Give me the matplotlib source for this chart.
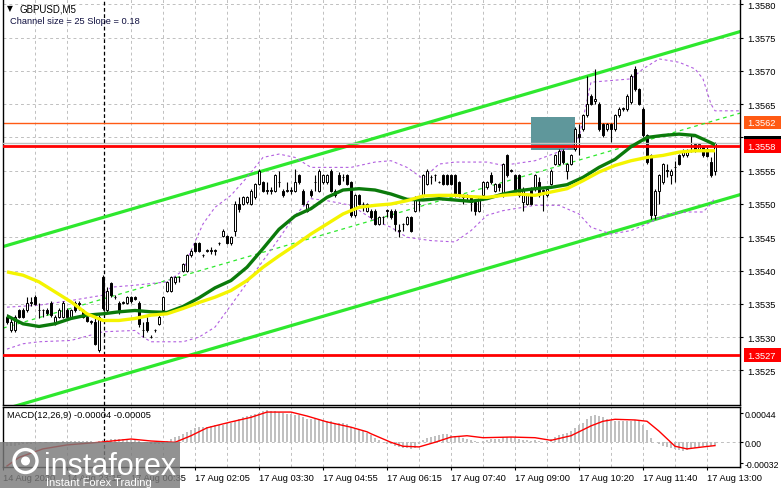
import numpy as np
import matplotlib.pyplot as plt
from matplotlib.patches import Rectangle, Circle
from matplotlib.transforms import blended_transform_factory

plt.rcParams['font.family'] = ['Liberation Sans', 'DejaVu Sans']

base = 1.35  # prices below are pips above 1.3500

opens = [33.0,31.0,31.0,34.0,34.0,34.0,35.2,36.0,34.0,34.0,
         34.0,35.2,32.0,33.0,33.0,34.0,33.0,35.2,35.2,34.0,
         33.0,32.3,32.3,28.0,39.0,34.0,38.1,36.0,35.2,35.2,
         35.2,36.0,36.0,35.2,31.0,32.3,30.0,31.0,32.0,34.0,
         37.0,37.0,38.3,39.0,40.0,40.0,42.3,44.1,44.1,42.3,
         43.0,43.0,43.0,44.1,45.2,45.2,44.1,46.0,50.0,50.0,
         50.3,50.0,51.0,53.0,53.3,52.0,52.0,52.0,53.3,52.0,
         52.0,52.0,52.0,54.3,52.0,49.0,52.0,53.3,52.0,53.3,
         53.3,55.0,51.3,54.3,54.0,54.3,53.3,48.3,51.3,50.0,
         49.0,49.0,49.0,47.0,48.0,49.0,49.0,49.0,46.0,47.0,
         47.0,48.0,49.0,50.0,51.3,53.0,54.0,54.3,53.3,54.3,
         54.3,54.3,54.3,53.3,51.3,51.3,51.0,50.3,49.0,51.3,
         52.5,54.3,52.0,53.0,51.3,57.3,55.0,54.3,54.3,50.3,
         50.0,52.3,52.3,53.3,52.0,51.3,53.0,56.0,56.0,58.0,
         55.0,56.0,58.3,60.5,61.3,63.3,66.3,65.5,65.0,62.0,
         61.3,62.0,61.3,63.3,64.3,64.3,65.3,70.3,67.3,64.3,
         60.3,57.3,48.3,52.0,53.3,55.0,54.3,55.5,57.3,57.3,
         57.3,58.0,59.0,58.3,58.5,58.3,56.3,55.0]
highs = [33.5,32.8,33.3,34.2,34.3,36.0,36.0,36.3,35.2,34.2,
         34.3,35.4,33.3,34.3,35.4,34.3,34.2,35.4,35.4,34.2,
         33.2,32.5,33.0,33.3,39.3,37.5,38.3,36.3,35.4,35.4,
         36.2,36.2,36.2,35.4,32.3,33.0,30.3,31.2,33.3,36.2,
         38.5,39.2,39.2,39.2,41.2,42.5,43.2,44.3,44.3,42.5,
         43.2,43.5,43.2,44.3,46.2,45.4,45.2,50.5,51.0,51.2,
         51.2,52.2,53.2,55.3,53.5,53.3,52.5,54.5,55.0,52.2,
         53.3,52.5,55.3,54.5,52.2,50.2,52.2,54.3,55.3,54.5,
         54.5,55.2,52.2,54.8,54.5,54.5,53.5,51.5,51.5,50.3,
         50.2,49.2,49.2,48.2,48.2,49.2,49.2,49.2,47.0,47.2,
         48.2,48.2,51.2,51.0,54.5,55.3,54.3,54.5,53.5,54.5,
         54.5,54.5,54.5,53.5,51.5,51.5,51.3,50.5,51.2,53.5,
         53.5,54.8,53.2,53.2,56.2,57.5,55.2,54.5,54.5,52.5,
         51.5,52.5,54.5,54.0,52.2,52.5,55.2,57.5,58.2,58.2,
         56.2,57.5,61.5,62.0,63.5,69.3,66.5,70.3,65.3,62.2,
         62.2,62.2,63.5,64.5,64.5,66.5,69.5,70.8,67.5,64.5,
         60.5,57.5,52.2,54.5,56.2,56.0,55.2,56.5,57.5,58.2,
         58.2,60.3,59.2,59.2,58.7,58.5,57.0,59.3]
lows = [32.0,30.8,30.8,32.8,32.8,33.8,34.7,34.8,32.8,33.0,
        33.3,33.0,31.8,32.8,32.8,32.8,32.8,33.8,34.0,32.8,
        32.2,32.0,28.8,27.8,34.0,33.8,36.0,35.8,33.5,35.0,
        35.0,35.2,35.6,31.5,30.0,30.8,29.8,30.8,31.8,33.8,
        36.8,36.8,38.0,38.3,39.8,39.8,42.0,42.8,42.8,42.0,
        42.8,42.5,42.3,43.9,45.0,44.0,43.8,45.2,48.8,49.8,
        50.0,49.8,50.8,52.8,51.8,51.5,51.5,51.8,52.5,51.0,
        51.8,51.5,51.8,53.0,49.8,48.8,51.0,52.0,51.8,53.0,
        53.0,51.8,51.0,52.8,53.5,52.8,48.0,48.0,49.8,49.0,
        48.8,47.8,46.8,46.8,47.0,48.0,47.8,46.0,45.0,46.0,
        46.8,45.8,48.8,49.0,51.0,52.8,53.0,53.5,53.1,52.8,
        52.8,52.8,51.0,51.0,50.0,50.5,49.0,48.3,48.8,51.0,
        52.3,53.0,51.8,52.0,51.0,54.0,54.8,51.5,51.0,49.0,
        49.8,49.8,52.0,51.0,49.0,51.0,52.8,55.8,55.8,56.0,
        53.8,55.8,58.0,57.3,61.0,63.0,64.8,65.0,61.0,60.0,
        61.0,59.3,61.0,63.0,64.0,64.0,65.0,67.0,64.8,60.0,
        56.0,47.8,47.8,50.0,53.0,54.0,53.0,53.3,55.8,57.0,
        57.0,57.8,57.8,58.0,57.0,57.0,54.0,54.3]
closes = [32.3,32.3,33.0,33.0,33.0,35.2,35.2,35.0,34.0,34.0,
          33.6,33.3,33.0,34.0,35.2,33.0,34.0,34.0,35.0,33.0,
          32.4,32.3,29.0,33.0,34.3,37.0,36.3,36.0,34.0,35.2,
          36.0,35.5,35.8,32.0,31.0,31.0,30.0,31.0,33.0,36.0,
          38.3,39.0,39.0,39.0,41.0,42.3,43.0,43.0,43.0,42.3,
          43.0,43.0,43.0,44.1,46.0,44.1,45.0,50.0,49.3,51.0,
          51.0,52.0,53.0,55.0,52.0,52.0,52.0,54.3,53.3,51.3,
          52.0,52.0,53.3,53.3,50.0,50.0,51.3,53.3,55.0,54.3,
          54.3,52.0,52.0,53.0,54.0,53.0,48.3,51.3,50.0,50.0,
          50.0,48.0,47.0,48.0,48.0,49.0,48.0,47.0,46.0,47.0,
          48.0,46.0,51.0,50.0,54.3,55.0,54.0,54.3,53.3,53.0,
          53.0,53.0,51.3,51.3,51.0,51.3,50.3,49.0,51.0,53.3,
          53.3,53.3,53.0,52.5,56.0,54.3,55.0,51.8,51.3,52.3,
          51.3,50.0,54.3,51.3,52.0,52.3,55.0,57.3,58.0,56.3,
          56.0,57.3,61.3,60.0,63.3,65.0,65.0,65.8,61.3,60.3,
          62.0,61.3,63.3,64.3,64.3,66.3,69.3,67.3,65.0,60.3,
          56.3,48.3,52.0,54.3,56.0,55.0,55.0,55.5,56.0,58.0,
          58.0,58.0,58.0,59.0,57.3,57.2,54.3,59.2]

# moving averages read every 4 bars
ma_idx = [0,4,8,12,16,20,24,28,32,36,40,44,48,52,56,60,64,68,72,76,80,84,88,
          92,96,100,104,108,112,116,120,124,128,132,136,140,144,148,152,156,
          160,164,168,172,176,177]
ma_green = [33.2,32.0,31.6,32.0,32.8,33.3,33.5,33.8,34.0,33.8,33.7,34.6,35.9,
            37.4,38.5,40.5,43.3,46.2,48.2,49.3,51.0,52.1,52.3,52.1,51.5,50.7,
            50.6,50.8,50.6,50.4,50.8,51.5,52.0,52.3,52.5,52.9,54.0,55.5,56.7,
            58.6,60.0,60.3,60.5,60.3,59.2,58.9]
ma_yellow = [39.8,39.3,38.3,36.8,35.3,33.5,32.5,32.5,32.8,33.3,33.5,34.3,35.2,
             36.0,37.0,38.5,40.5,42.2,43.8,45.5,47.0,48.5,49.5,49.8,50.0,50.5,
             51.2,51.3,51.3,51.1,51.0,51.3,51.5,51.3,51.8,52.3,53.5,54.8,55.8,
             56.5,57.0,57.3,57.8,58.0,58.0,58.0]

bb_up_idx = [0,8,16,24,26,32,40,44,46,49,52,56,60,64,68,72,76,80,86,92,96,100,
             104,108,112,120,124,132,140,143,146,150,156,159,163,168,172,174,
             176,177,183]
bb_up = [34.5,34.8,35.5,36.3,37.5,37.8,38.3,40.0,43.0,47.0,49.5,51.3,54.0,57.0,
         57.5,57.0,55.5,55.5,55.5,56.3,56.5,55.5,53.8,56.0,56.3,56.3,55.8,56.5,
         58.3,60.0,68.3,68.5,68.8,70.3,71.8,71.3,70.3,68.8,65.0,64.0,64.0]
bb_lo_idx = [0,4,8,16,24,32,34,36,44,48,52,56,62,68,72,76,80,86,92,96,100,106,
             112,116,120,124,132,138,143,146,151,156,160,165,170,174,176,177]
bb_lo = [28.2,29.0,29.3,29.5,30.8,31.0,30.0,29.3,29.3,30.0,31.5,34.8,39.8,44.8,
         48.3,50.8,50.5,49.8,47.5,46.5,45.0,44.5,44.3,46.0,48.3,49.0,49.8,49.8,
         48.5,46.5,45.5,46.0,47.0,48.5,48.8,48.8,50.0,51.0]

# regression channel (size 25, slope 0.18)
chan_idx = [-1, 183.25]
chan_up = [43.6, 75.9]
chan_lo = [19.1, 51.4]

levels = [62.2, 58.7, 27.3]
level_lbl = ['1.3562', '1.3558', '1.3527']
level_col = ['#ff5a14', '#ff0000', '#ff0000']
zone = (131, 142, 58.1, 63.05)

# MACD (units of 1e-5)
hist = [-6,-5,-5,-4,-3,-2,-2,-1,0,0,
        1,1,1,1,2,2,2,2,2,2,
        2,2,1,2,3,4,5,5,5,5,
        5,4,4,2,1,-1,-2,-3,-3,-2,
        2,5,8,10,12,15,18,21,23,24,
        24,25,26,27,27,29,30,33,36,38,
        40,41,43,45,47,49,48,47,46,44,
        43,43,42,41,38,36,36,35,35,34,
        33,32,30,30,29,28,24,21,19,17,
        14,11,6,3,1,-2,-3,-5,-7,-8,
        -9,-10,-8,-3,3,6,8,10,11,12,
        12,11,9,8,6,5,3,2,1,2,
        4,5,5,5,8,8,8,6,5,4,
        3,2,3,2,1,2,5,8,11,12,
        14,17,21,26,30,35,40,41,40,38,
        36,33,33,32,32,32,33,34,32,27,
        18,6,1,-3,-5,-7,-8,-10,-12,-13,
        -12,-10,-8,-7,-6,-5,-5,-4]
sig_idx = [0,3,9,15,23,31,36,42,46,50,56,61,65,71,75,80,86,90,91,96,99,103,107,
           111,115,119,126,132,136,141,146,149,152,157,160,163,167,170,174,177]
sig = [-36,-23,-10,-4,0,5,2,0,10,22,31,38,46,46,40,31,23,16,13,0,-6,-7,0,8,10,7,
       8,7,3,10,25,32,35,34,32,17,-6,-10,-7,-5]

time_idx = [-0.9, 15, 31, 47, 63, 79, 95, 111, 127, 143, 159, 175]
time_lbl = ['14 Aug 2020', '14 Aug 23:15', '17 Aug 00:35', '17 Aug 02:05',
            '17 Aug 03:30', '17 Aug 04:55', '17 Aug 06:15', '17 Aug 07:40',
            '17 Aug 09:00', '17 Aug 10:20', '17 Aug 11:40', '17 Aug 13:00']
grid_idx = [7, 15, 31, 39, 47, 55, 63, 71, 79, 87, 95, 103, 111, 119, 127, 135,
            143, 151, 159, 167, 175]
sep_idx = 24.25
price_ticks = [1.3525, 1.3530, 1.3535, 1.3540, 1.3545, 1.3550, 1.3555, 1.3560,
               1.3565, 1.3570, 1.3575, 1.3580]
macd_ticks = [0.00044, 0.0, -0.00032]
macd_lbl = ['0.00044', '0.00', '-0.00032']


def p(a):
    return base + np.asarray(a, dtype=float) / 1e4


W, H = 781, 489
fs = 6.7
fig = plt.figure(figsize=(W / 100, H / 100), dpi=100)
ax = fig.add_axes([3 / W, 1 - 406 / H, 737 / W, 406 / H])
axm = fig.add_axes([3 / W, 1 - 467.5 / H, 737 / W, 59.5 / H])

for a in (ax, axm):
    a.set_xlim(-1, 183.25)
    for s in a.spines.values():
        s.set_color('black')
        s.set_linewidth(1)
    for g in grid_idx:
        a.axvline(g, color='#c0c0c0', lw=0.7, ls=(0, (3, 3)), zorder=0.5)
    a.axvline(sep_idx, color='black', lw=0.9, ls=(0, (3, 2)), zorder=0.6)
ax.spines['top'].set_visible(False)
ax.set_ylim(1.35198, 1.35808)
axm.set_ylim(-0.000368, 0.000537)

# price grid
for t in price_ticks:
    ax.axhline(t, color='#c0c0c0', lw=0.7, ls=(0, (3, 3)), zorder=0.5)

# channel
ax.plot(chan_idx, p(chan_up), color='#2ee82e', lw=2.3, zorder=2)
ax.plot(chan_idx, p(chan_lo), color='#2ee82e', lw=2.3, zorder=2)
ax.plot(chan_idx, (p(chan_up) + p(chan_lo)) / 2, color='#2ee82e', lw=0.9,
        ls=(0, (3, 3)), zorder=2)

# bollinger bands
ax.plot(bb_up_idx, p(bb_up), color='#b25fe0', lw=0.8, ls=(0, (2.5, 2.5)), zorder=2)
ax.plot(bb_lo_idx, p(bb_lo), color='#b25fe0', lw=0.8, ls=(0, (2.5, 2.5)), zorder=2)

# levels and zone
ax.axhline(p(levels[0]), color=level_col[0], lw=1.0, zorder=1.8)
ax.add_patch(Rectangle((zone[0], p(zone[2])), zone[1] - zone[0],
                       (zone[3] - zone[2]) / 1e4, facecolor='#5f979b',
                       edgecolor='none', zorder=1.9))
ax.axhline(p(closes[-1]), color='#c0c0c0', lw=1.0, zorder=4)
ax.axhline(p(levels[1]), color=level_col[1], lw=2.0, zorder=4.1)
ax.axhline(p(levels[2]), color=level_col[2], lw=2.0, zorder=4.1)

# candles
x = np.arange(len(closes))
o, h, l, c = p(opens), p(highs), p(lows), p(closes)
ax.vlines(x, l, h, color='black', lw=0.8, zorder=3)
lo_b = np.minimum(o, c)
hi_b = np.maximum(o, c)
hgt = np.maximum(hi_b - lo_b, 0.000006)
ax.bar(x, hgt, bottom=lo_b, width=0.55, color=np.where(c >= o, 'white', 'black'),
       edgecolor='black', linewidth=0.7, zorder=3.5)

# moving averages
ax.plot(ma_idx, p(ma_green), color='#0b7a0b', lw=2.4, zorder=4.5,
        solid_capstyle='butt')
ax.plot(ma_idx, p(ma_yellow), color='#f4f400', lw=2.4, zorder=4.6,
        solid_capstyle='butt')

# price axis
ax.yaxis.tick_right()
ax.set_yticks(price_ticks)
ax.set_yticklabels([f'{t:.4f}' for t in price_ticks])
ax.tick_params(axis='y', length=2.5, width=0.8, pad=3, labelsize=fs, colors='black')
ax.tick_params(axis='x', bottom=False, labelbottom=False)

# level labels on the price axis (black bid box sits under the red one)
tr = blended_transform_factory(ax.transAxes, ax.transData)
box_w = 38 / 737
box_h = 6.6 / 6.66 / 1e4
ax.add_patch(Rectangle((1.0054, p(closes[-1]) - box_h), box_w, 2 * box_h,
                       transform=tr, facecolor='black', edgecolor='none',
                       clip_on=False, zorder=6))
for v, t, col in zip(levels, level_lbl, level_col):
    ax.add_patch(Rectangle((1.0054, p(v) - box_h), box_w, 2 * box_h,
                           transform=tr, facecolor=col, edgecolor='none',
                           clip_on=False, zorder=6))
    ax.text(1.0095, p(v), t, transform=tr, color='white', fontsize=fs,
            va='center', ha='left', zorder=7, clip_on=False)

# MACD panel
axm.axhline(0, color='#c0c0c0', lw=0.7, ls=(0, (3, 3)), zorder=0.5)
axm.bar(x, np.asarray(hist) * 1e-5, width=0.7, color='#c0c0c0', zorder=2)
axm.plot(sig_idx, np.asarray(sig) * 1e-5, color='#ff0000', lw=1.0, zorder=3)
axm.yaxis.tick_right()
axm.set_yticks(macd_ticks)
axm.set_yticklabels(macd_lbl)
axm.tick_params(axis='y', length=2.0, width=0.8, pad=1.5, labelsize=6.3)
axm.set_xticks(time_idx)
axm.set_xticklabels(time_lbl)
axm.tick_params(axis='x', length=2.5, width=0.8, pad=2.5, labelsize=fs)
for lab in axm.get_xticklabels():
    lab.set_ha('left')

# texts
def px(xp, yp):
    return xp / W, 1 - yp / H

fig.text(*px(7, 9), '\u25bc', fontsize=5.5, va='center', ha='left',
         family='DejaVu Sans')
fig.text(*px(19, 9), 'GBPUSD,M5', fontsize=7, va='center', ha='left')
fig.text(*px(10, 21), 'Channel size = 25 Slope = 0.18', fontsize=fs,
         va='center', ha='left', color='#101040')
fig.text(*px(7, 416), 'MACD(12,26,9) -0.00004 -0.00005', fontsize=fs,
         va='center', ha='left')

# watermark
fig.add_artist(Rectangle(px(0, 489), 180 / W, 46 / H, transform=fig.transFigure,
                         facecolor='#7a7a7a', edgecolor='none', alpha=0.82,
                         zorder=5))
fig.add_artist(Circle((0.255, (H - 462) / 100), 0.115, transform=fig.dpi_scale_trans,
                      facecolor='none', edgecolor='white', lw=2.4, zorder=6))
fig.add_artist(Circle((0.255, (H - 462) / 100), 0.045, transform=fig.dpi_scale_trans,
                      facecolor='white', edgecolor='none', zorder=6))
fig.text(*px(44, 475), 'instaforex', fontsize=22, color='white', va='baseline',
         ha='left', zorder=7)
fig.text(*px(46, 486), 'Instant Forex Trading', fontsize=8, color='white',
         va='baseline', ha='left', zorder=7)

fig.savefig('out.png', dpi=100)
